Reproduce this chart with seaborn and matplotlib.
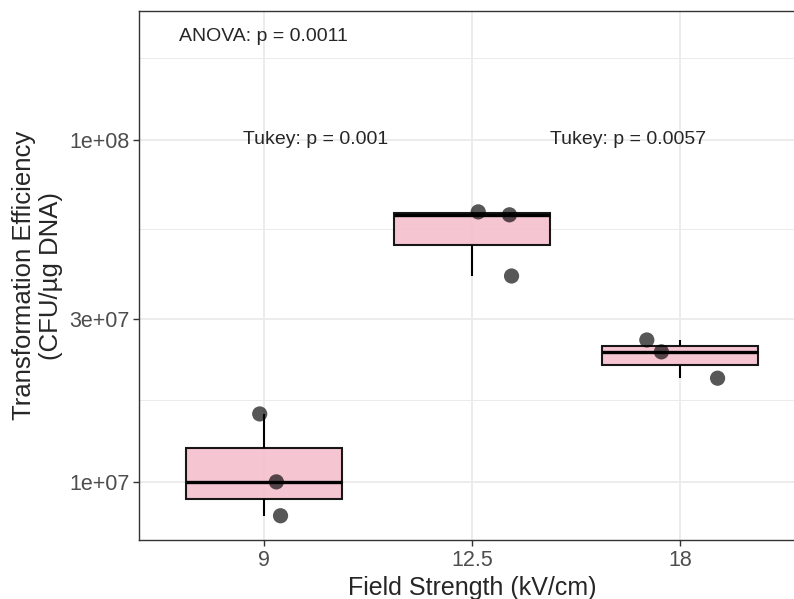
import numpy as np
import pandas as pd
import matplotlib.pyplot as plt
from matplotlib.ticker import FixedLocator, NullFormatter
import seaborn as sns

# data (CFU/ug DNA)
strengths = ["9", "12.5", "18"]
eff_9 = [7.96e6, 1.00e7, 1.58e7]
eff_12_5 = [4.00e7, 6.04e7, 6.16e7]
eff_18 = [2.01e7, 2.40e7, 2.60e7]

y_ticks = [1e7, 3e7, 1e8]
y_tick_labels = ["1e+07", "3e+07", "1e+08"]

anova_text = "ANOVA: p = 0.0011"
tukey_texts = ["Tukey: p = 0.001", "Tukey: p = 0.0057"]

df = pd.DataFrame({
    "field": np.repeat(strengths, 3),
    "eff": eff_9 + eff_12_5 + eff_18,
})
df["field"] = pd.Categorical(df["field"], categories=strengths)

# fixed horizontal jitter of the points
jitter = [0.08, 0.06, -0.02, 0.19, 0.18, 0.03, 0.18, -0.09, -0.16]
df["xpos"] = df["field"].cat.codes + np.array(jitter)

sns.set_style("white")
plt.rcParams["font.family"] = ["Liberation Sans", "DejaVu Sans"]

fig = plt.figure(figsize=(7.94, 5.99), dpi=100)
ax = fig.add_axes([139 / 794, 59 / 599, 666 / 794, 529 / 599])

sns.boxplot(data=df, x="field", y="eff", ax=ax, log_scale=True, width=0.75,
            color="#F4BFCD", saturation=1, linecolor="black", linewidth=1.5,
            showfliers=False, showcaps=False,
            boxprops={"alpha": 0.9},
            medianprops={"linewidth": 2.4})

sns.scatterplot(data=df, x="xpos", y="eff", ax=ax, color="black", alpha=0.66,
                s=120, edgecolor="none", zorder=5)

ax.text(0, 2e8, anova_text, ha="center", va="center", fontsize=14)
ax.text(0.25, 1e8, tukey_texts[0], ha="center", va="center", fontsize=14)
ax.text(1.75, 1e8, tukey_texts[1], ha="center", va="center", fontsize=14)

ax.set_xlim(-0.6, 2.6)
ax.set_ylim(10 ** 6.830, 10 ** 8.377)
ax.yaxis.set_major_locator(FixedLocator(y_ticks))
ax.set_yticklabels(y_tick_labels)
ax.yaxis.set_minor_locator(FixedLocator([10 ** 7.2386, 10 ** 7.7386, 10 ** 8.2386]))
ax.yaxis.set_minor_formatter(NullFormatter())

ax.grid(True, which="major", color="#EBEBEB", linewidth=1.3, zorder=0)
ax.grid(True, which="minor", axis="y", color="#EBEBEB", linewidth=0.7, zorder=0)
ax.set_axisbelow(True)

ax.tick_params(which="major", length=4, width=1, color="#333333", labelcolor="#4D4D4D",
               labelsize=15.5, pad=3, left=True, bottom=True)
ax.tick_params(which="minor", length=0)
for s in ax.spines.values():
    s.set_color("#333333")
    s.set_linewidth(1.0)
    s.set_visible(True)
ax.spines["right"].set_visible(False)

ax.set_xlabel("Field Strength (kV/cm)", fontsize=18, labelpad=4)
ax.set_ylabel("Transformation Efficiency\n(CFU/µg DNA)", fontsize=18.5, labelpad=4)

fig.savefig("out.png", dpi=100)
